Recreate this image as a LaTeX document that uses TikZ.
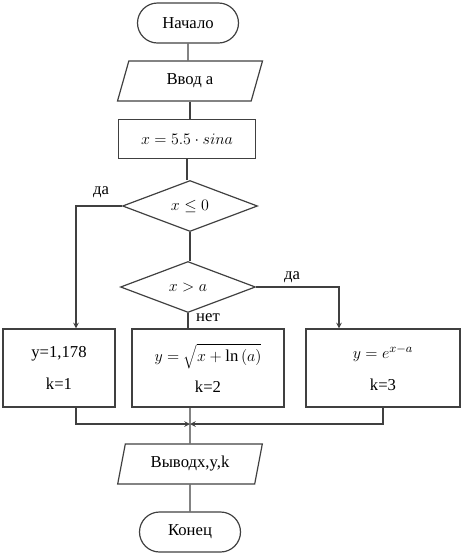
\documentclass[tikz,border=0pt]{standalone}
\usepackage{fontspec}
\setmainfont{Liberation Serif}
\usetikzlibrary{shapes.geometric,shapes.misc}

\begin{document}
\begin{tikzpicture}[x=0.75pt,y=-0.75pt,line width=0.9pt,
  font=\rmfamily\fontsize{12.5}{14}\selectfont,
  term/.style={draw=black!75,rounded rectangle,minimum width=75.75pt,minimum height=30pt,inner sep=0pt},
  inout/.style={draw=black!75,trapezium,trapezium left angle=73,trapezium right angle=107,
    trapezium stretches=true,minimum width=109pt,minimum height=30pt,inner sep=0pt},
  proc/.style={draw=black!75,rectangle,minimum height=29.25pt,inner sep=0pt},
  cond/.style={draw=black!75,diamond,minimum width=101.25pt,minimum height=38.25pt,inner sep=0pt},
  calcbox/.style={draw=black!75,rectangle,minimum height=58.5pt,align=center,inner sep=0pt},
  line/.style={draw=black!75},
  arr/.style={draw=black!75,->,>=stealth}]
\useasboundingbox (0,0) rectangle (465,558);

\node[term] (start) at (188,23) {Начало};
\node[inout] (in) at (190,81) {Ввод а};
\node[proc,minimum width=102.75pt] (calc) at (187,139) {$x=5.5\cdot sina$};
\node[cond] (d1) at (190,206) {$x\leq 0$};
\node[cond] (d2) at (188,287) {$x>a$};

\node[calcbox,minimum width=84pt] (b1) at (59,368) {y=1,178\\[10pt]k=1};
\node[calcbox,minimum width=114pt] (b2) at (208,368) {$y=\sqrt{x+\ln{(a)}}$\\[8pt]k=2};
\node[calcbox,minimum width=115.5pt] (b3) at (383,368) {$y=e^{x-a}$\\[10pt]k=3};

\node[inout] (out) at (190,464) {Выводx,y,k};
\node[term] (stop) at (190,532) {Конец};

\coordinate (m) at (190,424);

\draw[line] (start) -- (start |- in.north);
\draw[line] (in.south) -- (in.south |- calc.north);
\draw[line] (calc.south) -- (calc.south |- d1.north);
\draw[line] (d1.south) -- (d1.south |- d2.north);
\draw[arr] (d1.west) -| (76,0 |- b1.north);
\draw[arr] (d2.east) -| (339,0 |- b3.north);
\draw[line] (d2.south) -- (d2.south |- b2.north);
\draw[arr] (76,0 |- b1.south) |- (m);
\draw[arr] (b3.south) |- (m);
\draw[line] (m |- b2.south) -- (out.north);
\draw[line] (out.south) -- (stop.north);

\node at (101,192) {да};
\node at (292,277) {да};
\node at (208,318) {нет};
\end{tikzpicture}
\end{document}
